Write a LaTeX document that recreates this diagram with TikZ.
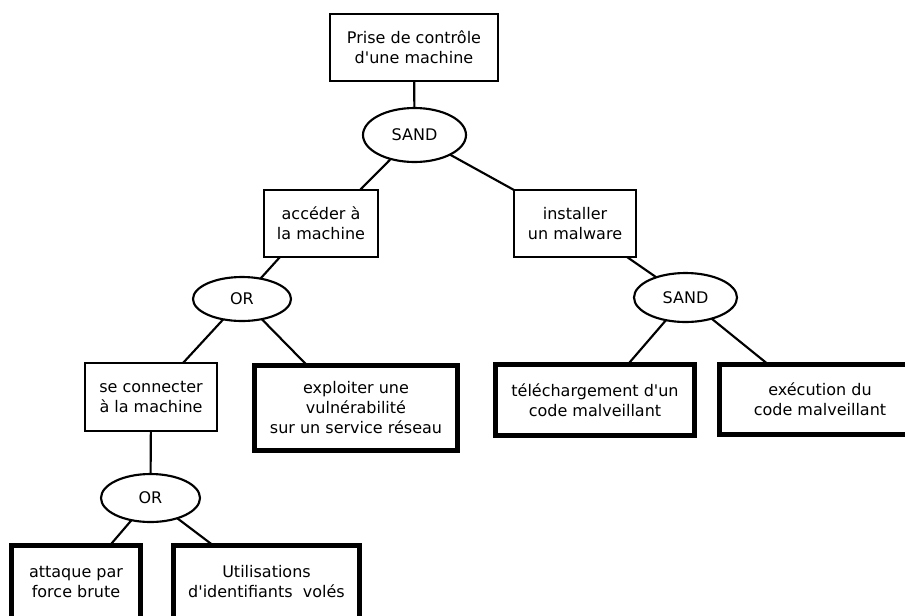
\documentclass[tikz,border=0pt]{standalone}
\usepackage{fontspec}
\setmainfont{DejaVu Sans}
\usetikzlibrary{shapes.geometric,calc}
\newcommand\ap{\textquotesingle}
\begin{document}
\begin{tikzpicture}[x=0.75pt,y=-0.75pt,
  every node/.style={font=\fontsize{12pt}{15pt}\selectfont, align=center, inner sep=0pt, outer sep=0pt},
  box/.style={draw, line width=1.6pt, rectangle},
  leaf/.style={draw, line width=3.4pt, rectangle},
  gate/.style={draw, line width=1.6pt, ellipse},
  link/.style={line width=1.6pt},
  sz/.style 2 args={minimum width={#1*0.75pt}, minimum height={#2*0.75pt}}]
\useasboundingbox (0,0) rectangle (905,615);
\clip (0,0) rectangle (905,615);

\node[box, sz={168}{67}] (top) at (414,47.5) {Prise de contrôle\\d\ap une machine};
\node[gate, sz={103}{54}] (sand1) at (414.5,135) {SAND};
\node[box, sz={114}{67}] (acc) at (321,223.5) {accéder à\\la machine};
\node[box, sz={122}{67}] (inst) at (575,223.5) {installer\\un malware};
\node[gate, sz={98}{44}] (or1) at (242,299) {OR};
\node[gate, sz={103}{49}] (sand2) at (685.5,297.5) {SAND};
\node[box, sz={132}{68}] (sc) at (151,397) {se connecter\\à la machine};
\node[leaf, sz={203.5}{85.5}] (expl) at (356,408) {exploiter une\\vulnérabilité\\sur un service réseau};
\node[leaf, sz={199.5}{71.5}] (tele) at (595,400) {téléchargement d\ap un\\code malveillant};
\node[leaf, sz={201.5}{70.5}] (exec) at (820,399.5) {exécution du\\code malveillant};
\node[gate, sz={99}{48}] (or2) at (150.5,498) {OR};
\node[leaf, sz={129.5}{73.5}] (att) at (76,582) {attaque par\\force brute};
\node[leaf, sz={186.5}{73.5}] (util) at (266.5,582) {Utilisations\\d\ap identifiants\ \ volés};

\draw[link] (top) -- (sand1);
\draw[link] (sand1) -- ($(acc.north)+(39,0)$);
\draw[link] (sand1) -- (inst.north west);
\draw[link] ($(acc.south)+(-41,0)$) -- (or1);
\draw[link] (or1) -- ($(sc.north)+(32,0)$);
\draw[link] (or1) -- ($(expl.north)+(-49,0)$);
\draw[link] ($(inst.south)+(52,0)$) -- (sand2);
\draw[link] (sand2) -- ($(tele.north)+(33,0)$);
\draw[link] (sand2) -- ($(exec.north)+(-52,0)$);
\draw[link] (sc) -- (or2);
\draw[link] (or2) -- ($(att.north)+(34,0)$);
\draw[link] (or2) -- ($(util.north)+(-53.5,0)$);
\end{tikzpicture}
\end{document}
